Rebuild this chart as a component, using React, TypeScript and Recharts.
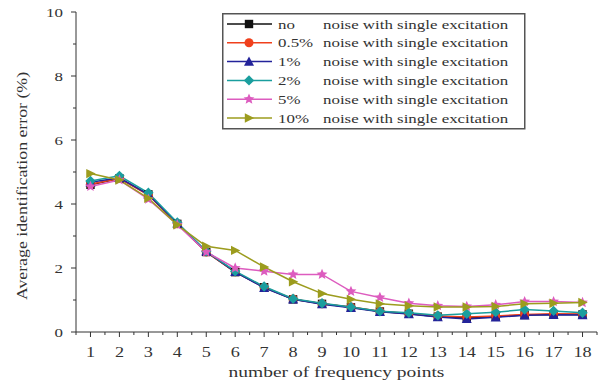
import React from "react";
import { LineChart, Line, XAxis, YAxis, Legend } from "recharts";

// frequency point count (x) and average identification error (%) per noise level
const points = [1, 2, 3, 4, 5, 6, 7, 8, 9, 10, 11, 12, 13, 14, 15, 16, 17, 18];
const noNoise = [4.6, 4.8, 4.3, 3.38, 2.5, 1.87, 1.4, 1.02, 0.88, 0.77, 0.64, 0.57, 0.48, 0.45, 0.48, 0.53, 0.55, 0.55];
const noise05 = [4.62, 4.8, 4.28, 3.38, 2.5, 1.88, 1.4, 1.03, 0.88, 0.78, 0.65, 0.58, 0.5, 0.47, 0.5, 0.55, 0.57, 0.56];
const noise1 = [4.68, 4.82, 4.3, 3.4, 2.52, 1.88, 1.38, 1.02, 0.87, 0.76, 0.63, 0.56, 0.47, 0.41, 0.46, 0.52, 0.54, 0.53];
const noise2 = [4.72, 4.88, 4.35, 3.42, 2.52, 1.9, 1.42, 1.04, 0.9, 0.78, 0.65, 0.6, 0.52, 0.57, 0.62, 0.7, 0.66, 0.6];
const noise5 = [4.55, 4.75, 4.15, 3.35, 2.5, 2.0, 1.9, 1.8, 1.8, 1.27, 1.08, 0.9, 0.82, 0.8, 0.85, 0.95, 0.95, 0.92];
const noise10 = [4.95, 4.75, 4.18, 3.35, 2.68, 2.55, 2.03, 1.57, 1.2, 1.02, 0.88, 0.82, 0.78, 0.78, 0.8, 0.88, 0.9, 0.92];

const xMajorTicks = [1, 2, 3, 4, 5, 6, 7, 8, 9, 10, 11, 12, 13, 14, 15, 16, 17, 18];
const yMajorTicks = [0, 2, 4, 6, 8, 10];

const series = [
  { key: "no", label: "no", values: noNoise, color: "#111111", shape: "square" },
  { key: "n05", label: "0.5%", values: noise05, color: "#f0401c", shape: "circle" },
  { key: "n1", label: "1%", values: noise1, color: "#23239a", shape: "triangle" },
  { key: "n2", label: "2%", values: noise2, color: "#1a9e9e", shape: "diamond" },
  { key: "n5", label: "5%", values: noise5, color: "#dd5cbf", shape: "star" },
  { key: "n10", label: "10%", values: noise10, color: "#9c9c1e", shape: "right" },
];

const data = points.map((p, i) => {
  const row: Record<string, number> = { x: p };
  series.forEach((s) => (row[s.key] = s.values[i]));
  return row;
});

// minor ticks halfway between majors
const xTicks = xMajorTicks.flatMap((t) => [t - 0.5, t]).concat([18.5]);
const yTicks = yMajorTicks.flatMap((t) => (t < 10 ? [t, t + 1] : [t]));

const FONT = "'Liberation Serif', 'DejaVu Serif', serif";
const AXIS = "#333";
const STRETCH = 1.3; // the source text is drawn wide

function WideText({ x, y, size, anchor = "start", children }: any) {
  return (
    <text
      transform={`translate(${x},${y}) scale(${STRETCH},1)`}
      textAnchor={anchor}
      fontSize={size}
      fontFamily={FONT}
      fill={AXIS}
    >
      {children}
    </text>
  );
}

function Marker({ shape, cx, cy, color }: { shape: string; cx: number; cy: number; color: string }) {
  const s = 4.2;
  if (shape === "square")
    return <rect x={cx - s} y={cy - s} width={s * 2} height={s * 2} fill={color} />;
  if (shape === "circle") return <circle cx={cx} cy={cy} r={s + 0.3} fill={color} />;
  if (shape === "triangle")
    return <polygon points={`${cx},${cy - s - 1} ${cx - s - 0.8},${cy + s} ${cx + s + 0.8},${cy + s}`} fill={color} />;
  if (shape === "diamond")
    return <polygon points={`${cx},${cy - s - 1} ${cx + s + 1},${cy} ${cx},${cy + s + 1} ${cx - s - 1},${cy}`} fill={color} />;
  if (shape === "right")
    return <polygon points={`${cx - s},${cy - s - 0.5} ${cx + s + 1},${cy} ${cx - s},${cy + s + 0.5}`} fill={color} />;
  // star
  const pts: string[] = [];
  for (let k = 0; k < 10; k++) {
    const r = k % 2 === 0 ? s + 1.5 : (s + 1.5) * 0.45;
    const a = -Math.PI / 2 + (k * Math.PI) / 5;
    pts.push(`${cx + r * Math.cos(a)},${cy + r * Math.sin(a)}`);
  }
  return <polygon points={pts.join(" ")} fill={color} />;
}

const XTick = (props: any) => {
  const { x, y, payload } = props;
  const major = Number.isInteger(payload.value);
  return (
    <g>
      <line x1={x} x2={x} y1={y} y2={y + (major ? 5 : 3)} stroke={AXIS} />
      {major && (
        <WideText x={x} y={y + 25} size={14} anchor="middle">
          {payload.value}
        </WideText>
      )}
    </g>
  );
};

const YTick = (props: any) => {
  const { x, y, payload } = props;
  const major = payload.value % 2 === 0;
  return (
    <g>
      <line x1={x} x2={x - (major ? 5 : 3)} y1={y} y2={y} stroke={AXIS} />
      {major && (
        <WideText x={x - 13} y={y + 5} size={13} anchor="end">
          {payload.value}
        </WideText>
      )}
    </g>
  );
};

const LegendBox = () => (
  <svg width={305} height={118} style={{ display: "block" }}>
    <rect x={0.75} y={0.75} width={302} height={115} fill="#fff" stroke="#555" strokeWidth={1.5} />
    {series.map((s, i) => {
      const cy = 11 + i * 18.8;
      return (
        <g key={s.key}>
          <line x1={5} x2={50} y1={cy} y2={cy} stroke={s.color} strokeWidth={1.5} />
          <Marker shape={s.shape} cx={27} cy={cy} color={s.color} />
          <WideText x={56} y={cy + 4.5} size={13}>
            {s.label}
          </WideText>
          <WideText x={101} y={cy + 4.5} size={13}>
            noise with single excitation
          </WideText>
        </g>
      );
    })}
  </svg>
);

export default function App() {
  return (
    <div style={{ position: "absolute", left: 0, top: 0, width: 605, height: 383, background: "#fff" }}>
      <LineChart width={605} height={383} data={data} margin={{ top: 12, right: 8, bottom: 0, left: 0 }}>
        <XAxis
          dataKey="x"
          type="number"
          domain={[0.5, 18.5]}
          ticks={xTicks}
          interval={0}
          tickSize={0}
          tickMargin={0}
          tick={<XTick />}
          height={51}
          stroke={AXIS}
          label={{
            content: ({ viewBox }: any) => (
              <WideText x={viewBox.x + viewBox.width / 2} y={viewBox.y + 45} size={15} anchor="middle">
                number of frequency points
              </WideText>
            ),
          }}
        />
        <YAxis
          type="number"
          domain={[0, 10]}
          ticks={yTicks}
          interval={0}
          tickSize={0}
          tickMargin={0}
          tick={<YTick />}
          width={76}
          stroke={AXIS}
          label={{
            content: () => (
              <text
                transform="translate(24,186) rotate(-90) scale(1.27,1)"
                textAnchor="middle"
                dominantBaseline="middle"
                fontSize={14}
                fontFamily={FONT}
                fill={AXIS}
              >
                Average identification error (%)
              </text>
            ),
          }}
        />
        <Legend
          layout="vertical"
          align="center"
          verticalAlign="middle"
          wrapperStyle={{ left: 222, top: 13, width: 305, height: 118 }}
          content={() => <LegendBox />}
        />
        {series.map((s) => (
          <Line
            key={s.key}
            dataKey={s.key}
            stroke={s.color}
            strokeWidth={1.5}
            isAnimationActive={false}
            dot={(p: any) => (
              <g key={`${s.key}-${p.index}`}>
                <Marker shape={s.shape} cx={p.cx} cy={p.cy} color={s.color} />
              </g>
            )}
            activeDot={false}
          />
        ))}
      </LineChart>
    </div>
  );
}
